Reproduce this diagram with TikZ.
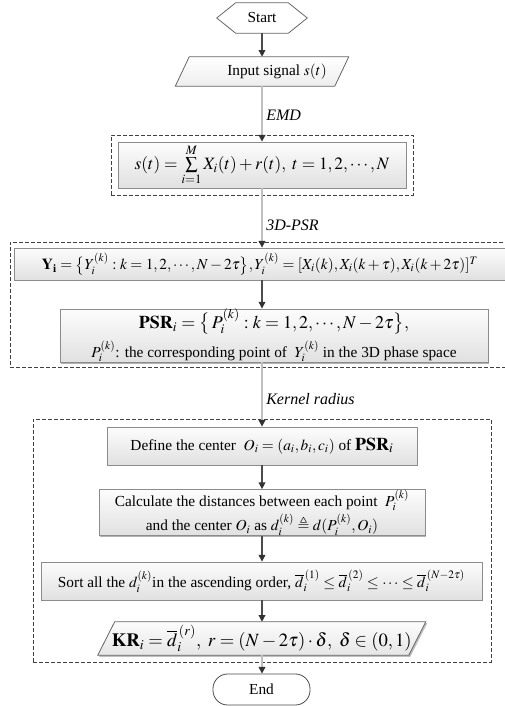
\documentclass[tikz,border=0pt]{standalone}
\usepackage{mathptmx}
\usepackage{amssymb}
\usepackage{fontspec}
\setmainfont{Liberation Serif}
\usetikzlibrary{shadows,backgrounds,arrows.meta,calc}
\begin{document}
\begin{tikzpicture}[x=0.75pt,y=-0.75pt,
  every node/.style={font=\fontsize{11.5}{14}\selectfont},
  box/.style={draw=black!45, line width=0.6pt, top color=black!1, bottom color=black!12,
    drop shadow={shadow xshift=1.1pt, shadow yshift=-1.1pt, opacity=0.3, fill=black},
    inner sep=0pt, align=center},
  plain/.style={inner sep=0pt, align=center},
  frame/.style={draw=black!75, dash pattern=on 3pt off 1.5pt, line width=0.6pt, inner sep=0pt},
  outline/.style={draw=black!60, line width=0.6pt},
  darr/.style={draw=black!70, line width=0.9pt, -{Triangle[length=5pt,width=5pt,color=black!80]}},
  garr/.style={draw=black!25, line width=1.1pt, -{Triangle[length=5pt,width=5pt,color=black!80]}},
  lab/.style={anchor=west, inner sep=0pt, font=\fontsize{12}{14}\selectfont\itshape}]
\useasboundingbox (0,0) rectangle (505,706);
\clip (0,0) rectangle (505,706);
\coordinate (axis) at (262,0);

% frames
\node[frame, minimum width=226.5pt, minimum height=45pt] (frame1) at (262,165) {};
\node[frame, minimum width=378.75pt, minimum height=93.75pt] (frame2) at (262.5,304.5) {};
\node[frame, minimum width=343.5pt, minimum height=182.25pt] (frame3) at (262,540.5) {};

% start
\node[plain, minimum width=67.5pt, minimum height=22.5pt] (start) at (262,18) {Start};
% input
\node[plain, minimum width=119.25pt, minimum height=21.75pt] (input) at (262,71.5) {\hspace*{22.5pt}Input signal $s(t)$};
% EMD
\node[box, minimum width=216pt, minimum height=34.5pt] (emd) at (262,165)
  {\fontsize{13}{16}\selectfont $s(t)=\sum\limits_{i=1}^{M}X_i(t)+r(t),\ t=1,2,\cdots,N$};
% Y
\node[box, minimum width=369pt, minimum height=24pt] (ybox) at (260,264)
  {$\mathbf{Y}_{\mathbf{i}}=\bigl\{Y_i^{(k)}:k=1,2,\cdots,N-2\tau\bigr\},Y_i^{(k)}=[X_i(k),X_i(k+\tau),X_i(k+2\tau)]^T$};
% PSR
\node[box, minimum width=321pt, minimum height=38.25pt] (psr) at (274,335.5)
  {{\fontsize{13.5}{16}\selectfont $\mathbf{PSR}_i=\bigl\{\,P_i^{(k)}:k=1,2,\cdots,N-2\tau\bigr\},$}\\[3.5pt]
   $P_i^{(k)}$: the corresponding point of \ $Y_i^{(k)}$ in the 3D phase space};
% Define
\node[box, minimum width=232.5pt, minimum height=28.5pt] (define) at (262,446)
  {Define the center \ $O_i=(a_i,b_i,c_i)$ of {\fontsize{13.5}{16}\selectfont$\mathbf{PSR}_i$}};
% Calculate
\node[box, minimum width=244.5pt, minimum height=32.25pt] (calc) at (262,512.5)
  {Calculate the distances between each point \ $P_i^{(k)}$\\[1.5pt]
   and the center $O_i$ as $d_i^{(k)}\triangleq d(P_i^{(k)},O_i)$};
% Sort
\node[box, minimum width=330.75pt, minimum height=28.5pt] (sort) at (261.5,581)
  {Sort all the $d_i^{(k)}$in the ascending order, $\overline{d}_i^{\,(1)}\le\overline{d}_i^{\,(2)}\le\cdots\le\overline{d}_i^{\,(N-2\tau)}$};
% KR
\node[plain, minimum width=232.9pt, minimum height=24.75pt] (kr) at (261.75,638.5)
  {\fontsize{14}{16}\selectfont $\mathbf{KR}_i=\overline{d}_i^{\,(r)},\ r=(N-2\tau)\cdot\delta,\ \delta\in(0,1)$};
% End
\node[draw=black!70, line width=0.6pt, fill=white, rounded corners=11pt, minimum width=72.75pt, minimum height=23.25pt, inner sep=0pt] (end) at (261.5,689.5) {End};

\begin{scope}[on background layer]
\draw[outline, fill=white] (start.west) -- ($(start.north west)+(19,0)$) -- ($(start.north east)+(-19,0)$)
  -- (start.east) -- ($(start.south east)+(-19,0)$) -- ($(start.south west)+(19,0)$) -- cycle;
\draw[outline, top color=white, bottom color=black!7] ($(input.south west)+(-7,0)$) -- ($(input.north west)+(7,0)$)
  -- ($(input.north east)+(7,0)$) -- ($(input.south east)+(-7,0)$) -- cycle;
\fill[black, opacity=0.25] ($(kr.south west)+(-7,1.5)$) -- ($(kr.north west)+(10,1.5)$)
  -- ($(kr.north east)+(10,1.5)$) -- ($(kr.south east)+(-7,1.5)$) -- cycle;
\draw[outline, top color=black!1, bottom color=black!10] ($(kr.south west)+(-8.5,0)$) -- ($(kr.north west)+(8.5,0)$)
  -- ($(kr.north east)+(8.5,0)$) -- ($(kr.south east)+(-8.5,0)$) -- cycle;
\end{scope}

% connectors
\draw[darr] (start.south -| axis) -- (input.north -| axis);
\draw[garr] (input.south -| axis) -- (emd.north -| axis);
\draw[garr] (emd.south -| axis) -- (ybox.north -| axis);
\draw[darr] (ybox.south -| axis) -- (psr.north -| axis);
\draw[garr] (psr.south -| axis) -- (define.north -| axis);
\draw[darr] (define.south -| axis) -- (calc.north -| axis);
\draw[darr] (calc.south -| axis) -- (sort.north -| axis);
\draw[darr] (sort.south -| axis) -- (kr.north -| axis);
\draw[garr] (kr.south -| axis) -- (end.north -| axis);

% labels
\node[lab] (lemd) at (266,115) {EMD};
\node[lab] (lpsr) at (266,225) {3D-PSR};
\node[lab] (lker) at (266,399) {Kernel radius};
\end{tikzpicture}
\end{document}
